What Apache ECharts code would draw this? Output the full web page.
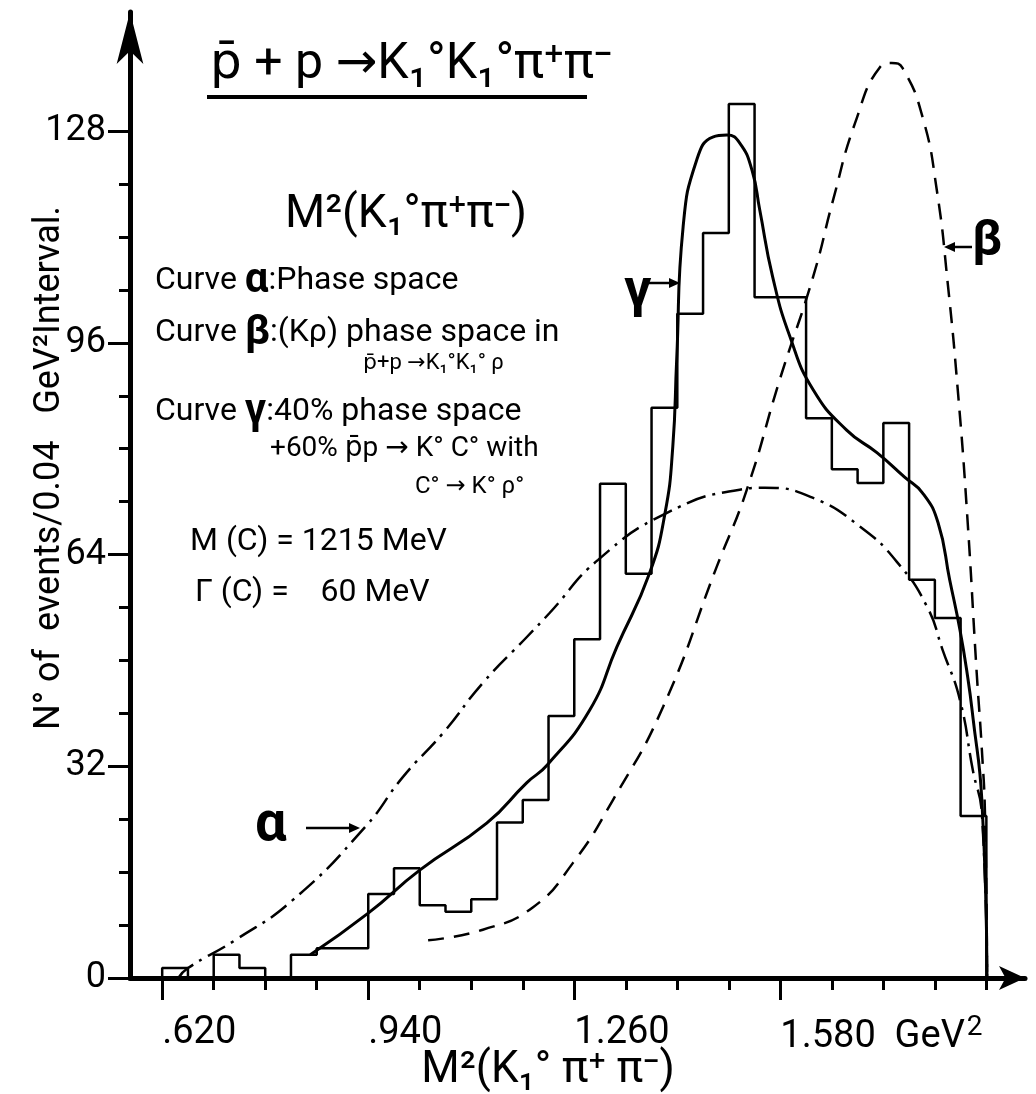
<!DOCTYPE html>
<html><head><meta charset="utf-8">
<script src="https://cdn.jsdelivr.net/npm/echarts@6/dist/echarts.min.js"></script>
<style>html,body{margin:0;padding:0;background:#fff}#c{width:1036px;height:1094px}</style>
</head><body><div id="c"></div>
<script>
// ---- data ----
const histEdges = [0.62,0.66,0.70,0.74,0.78,0.82,0.86,0.90,0.94,0.98,1.02,1.06,1.10,1.14,1.18,1.22,1.26,1.30,1.34,1.38,1.42,1.46,1.50,1.54,1.58,1.62,1.66,1.70,1.74,1.78,1.82,1.86,1.90];
const histCounts = [1.5,0,3.5,1.5,0,3.5,4.5,4.5,12.7,16.6,11,10,11.9,23.5,26.9,39.6,51.2,74.7,61.1,86.2,100.4,112.6,132.1,102.9,102.9,84.6,76.9,74.8,83.9,60.2,54.4,24.5];

const alphaX = [0.645,0.660,0.733,0.823,0.935,0.994,1.056,1.118,1.186,1.222,1.297,1.404,1.517,1.556,1.630,1.704,1.761,1.808,1.832,1.859,1.879,1.893,1.901];
const alphaY = [0,1.5,5.7,11.8,22.8,30.4,37,44.6,51.5,55.2,63.2,70.3,73.8,74.1,72.6,68.2,62.9,56.1,49.6,42,31.4,24.9,0];

const betaX = [1.033,1.118,1.196,1.258,1.320,1.398,1.481,1.528,1.579,1.631,1.662,1.696,1.735,1.753,1.770,1.801,1.823,1.840,1.856,1.870,1.885,1.893,1.898,1.901];
const betaY = [5.7,7.3,10.7,17.4,26.9,41,62.1,73.8,90.4,106,117.6,129.2,137.7,138.3,137.5,130.1,119.1,105,88.4,70.3,46.1,34.5,24.3,0];

const gammaX = [0.850,0.940,1.020,1.124,1.186,1.218,1.284,1.326,1.377,1.401,1.413,1.419,1.429,1.450,1.475,1.497,1.517,1.536,1.548,1.568,1.595,1.631,1.683,1.730,1.773,1.801,1.825,1.843,1.859,1.871,1.879,1.893,1.901];
const gammaY = [3.5,9.8,16.3,23.4,29.5,32.2,40.5,50,61.2,70.3,80.3,93.4,113.5,123.6,127.1,127.4,126.2,122.1,116.1,106,96.9,88.9,82.8,79.4,75.7,73.3,68.8,60.2,52.6,45.5,39.5,26.9,0];

const xLabelTicks = [0.62, 0.94, 1.26, 1.58];
const xLabelTexts = ['.620', '.940', '1.260', '1.580'];
const xMinorTicks = [0.70,0.78,0.86,1.02,1.10,1.18,1.34,1.42,1.50,1.66,1.74,1.82,1.90];
const yLabelTicks = [0, 32, 64, 96, 128];
const yMinorTicks = [8,16,24,40,48,56,72,80,88,104,112,120];

// ---- build ----
const FONT = 'Roboto, "DejaVu Sans", sans-serif';
const zip = (xs, ys) => xs.map((x, i) => [x, ys[i]]);
const histData = [[histEdges[0], 0]];
histCounts.forEach((c, i) => histData.push([histEdges[i], c]));
histData.push([histEdges[histEdges.length - 1], 0]);

function txt(x, y, text, size, extra) {
  return {
    type: 'text', x: x, y: y, z: 10,
    style: Object.assign({ text: text, fill: '#000', fontSize: size, fontFamily: FONT, verticalAlign: 'middle', align: 'left' }, extra || {})
  };
}
function arrow(x1, y1, x2, y2) {
  const a = Math.atan2(y2 - y1, x2 - x1), L = 11, W = 5;
  const bx = x2 - L * Math.cos(a), by = y2 - L * Math.sin(a);
  return [
    { type: 'line', z: 10, shape: { x1: x1, y1: y1, x2: bx, y2: by }, style: { stroke: '#000', lineWidth: 2.5 } },
    { type: 'polygon', z: 10, shape: { points: [[x2, y2], [bx - W * Math.sin(a), by + W * Math.cos(a)], [bx + W * Math.sin(a), by - W * Math.cos(a)]] }, style: { fill: '#000' } }
  ];
}
const greek = { g: { fontSize: 42, fontWeight: 'bold', fontFamily: FONT } };

const yName = txt(50, 468, 'N° of  events/0.04   GeV²Interval.', 36, { align: 'center' });
yName.rotation = Math.PI / 2;

const graphics = [
  txt(210, 65, 'p̄ + p →K₁°K₁°π⁺π⁻', 50),
  { type: 'rect', z: 10, shape: { x: 207, y: 95, width: 380, height: 4 }, style: { fill: '#000' } },
  txt(285, 215, 'M²(K₁°π⁺π⁻)', 46),
  txt(155, 281, 'Curve {g|α}:Phase space', 32, { rich: greek }),
  txt(155, 333, 'Curve {g|β}:(Kρ) phase space in', 32, { rich: greek }),
  txt(363, 363, 'p̄+p →K₁°K₁° ρ', 22),
  txt(155, 412, 'Curve {g|γ}:40% phase space', 32, { rich: greek }),
  txt(270, 449, '+60% p̄p → K° C° with', 28),
  txt(415, 487, 'C° → K° ρ°', 24),
  txt(190, 542, 'M (C) = 1215 MeV', 32),
  txt(195, 593, 'Γ (C) =    60 MeV', 32),
  txt(624, 292, 'γ', 54, { fontWeight: 'bold' }),
  txt(972, 242, 'β', 50, { fontWeight: 'bold' }),
  txt(255, 826, 'α', 56, { fontWeight: 'bold' }),
  yName,
  txt(548, 1071, 'M²(K₁° π⁺ π⁻)', 44, { align: 'center' })
].concat(arrow(647, 283, 680, 283), arrow(972, 247, 944, 247), arrow(306, 828, 360, 828));

const opt = {
  animation: false,
  backgroundColor: '#fff',
  grid: { left: 130, right: 11, top: 12, bottom: 116 },
  xAxis: [{
    type: 'value', min: 0.57, max: 1.96,
    splitLine: { show: false },
    axisLine: { lineStyle: { color: '#000', width: 5 }, symbol: ['none', 'arrow'], symbolSize: [18, 26] },
    axisTick: { customValues: xLabelTicks, length: 22, lineStyle: { color: '#000', width: 3 } },
    axisLabel: {
      customValues: xLabelTicks, margin: 36, align: 'left', color: '#000', fontSize: 38, fontFamily: FONT,
      formatter: function (v) {
        for (let i = 0; i < xLabelTicks.length; i++) {
          if (Math.abs(v - xLabelTicks[i]) < 1e-6) {
            return i === xLabelTicks.length - 1 ? xLabelTexts[i] + '  {u|GeV}{s|2}' : xLabelTexts[i];
          }
        }
        return '';
      },
      rich: { u: { fontSize: 38, fontFamily: FONT, color: '#000' }, s: { fontSize: 28, fontFamily: FONT, color: '#000', padding: [0, 0, 18, 2] } }
    }
  }, {
    type: 'value', min: 0.57, max: 1.96, position: 'bottom',
    splitLine: { show: false },
    axisLine: { show: false },
    axisTick: { customValues: xMinorTicks, length: 12, lineStyle: { color: '#000', width: 3 } },
    axisLabel: { show: false }
  }],
  yAxis: [{
    type: 'value', min: 0, max: 146,
    splitLine: { show: false },
    axisLine: { lineStyle: { color: '#000', width: 5 }, symbol: ['none', 'arrow'], symbolSize: [20, 52] },
    axisTick: { customValues: yLabelTicks, length: 22, lineStyle: { color: '#000', width: 3 } },
    axisLabel: { customValues: yLabelTicks, margin: 24, color: '#000', fontSize: 36, fontFamily: FONT }
  }, {
    type: 'value', min: 0, max: 146, position: 'left',
    splitLine: { show: false },
    axisLine: { show: false },
    axisTick: { customValues: yMinorTicks, length: 11, lineStyle: { color: '#000', width: 3 } },
    axisLabel: { show: false }
  }],
  series: [
    { name: 'histogram', type: 'line', step: 'end', data: histData, symbol: 'none', lineStyle: { color: '#000', width: 2.5 }, z: 3 },
    { name: 'alpha', type: 'line', data: zip(alphaX, alphaY), smooth: true, symbol: 'none', lineStyle: { color: '#000', width: 2.5, type: [20, 7, 3, 7] }, z: 2 },
    { name: 'beta', type: 'line', data: zip(betaX, betaY), smooth: true, symbol: 'none', lineStyle: { color: '#000', width: 2.5, type: [16, 10] }, z: 2 },
    { name: 'gamma', type: 'line', data: zip(gammaX, gammaY), smooth: true, symbol: 'none', lineStyle: { color: '#000', width: 3 }, z: 4 }
  ],
  graphic: graphics
};
const chart = echarts.init(document.getElementById('c'), null, { renderer: 'canvas' });
chart.setOption(opt);
</script>
</body></html>
